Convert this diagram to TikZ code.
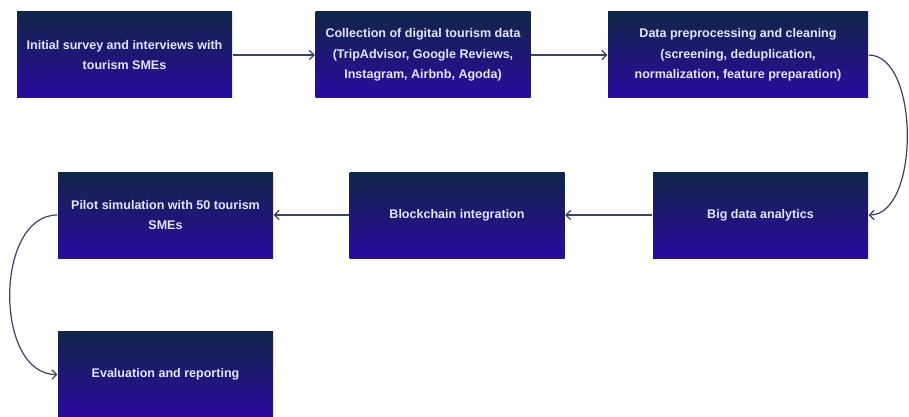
\documentclass[tikz,border=0pt]{standalone}
\usepackage{fontspec}
\setmainfont{Liberation Sans}
\usetikzlibrary{arrows.meta}
\definecolor{boxtop}{RGB}{16,38,72}
\definecolor{boxbot}{RGB}{44,10,160}
\definecolor{boxtext}{RGB}{228,228,252}
\definecolor{linkcol}{RGB}{58,66,100}
\begin{document}
\begin{tikzpicture}[x=0.75pt,y=-0.75pt,-{Straight Barb[length=3.5pt,width=7pt]},color=linkcol,line width=0.9pt,
		nodes={rectangle, top color=boxtop, bottom color=boxbot, text=boxtext, align=center,
			font=\bfseries\fontsize{9.4}{15.5}\selectfont, minimum width=161.25pt, minimum height=64.5pt, inner sep=0pt}]
			\useasboundingbox (0,0) rectangle (909,417);
			\node (survey) at (124.5,55) {Initial survey and interviews with\\tourism SMEs};
			\node (collect) at (423,55) {Collection of digital tourism data\\(TripAdvisor, Google Reviews,\\Instagram, Airbnb, Agoda)};
			\node (prep) [minimum width=195pt] at (738,55) {Data preprocessing and cleaning\\(screening, deduplication,\\normalization, feature preparation)};
			\node (bigdata) at (760.5,215) {Big data analytics};
			\node (chain) at (457,215) {Blockchain integration};
			\node (pilot) at (165.5,215) {Pilot simulation with 50 tourism\\SMEs};
			\node (eval) at (165.5,374.5) {Evaluation and reporting};
			\draw (survey) -- (collect);
			\draw (collect) -- (prep);
			\draw (prep.east) .. controls (920,55) and (920,215) .. (bigdata.east);
			\draw (bigdata) -- (chain);
			\draw (chain) -- (pilot);
			\draw (pilot.west) .. controls (-6,215) and (-6,375) .. (eval.west);
		\end{tikzpicture}
\end{document}
